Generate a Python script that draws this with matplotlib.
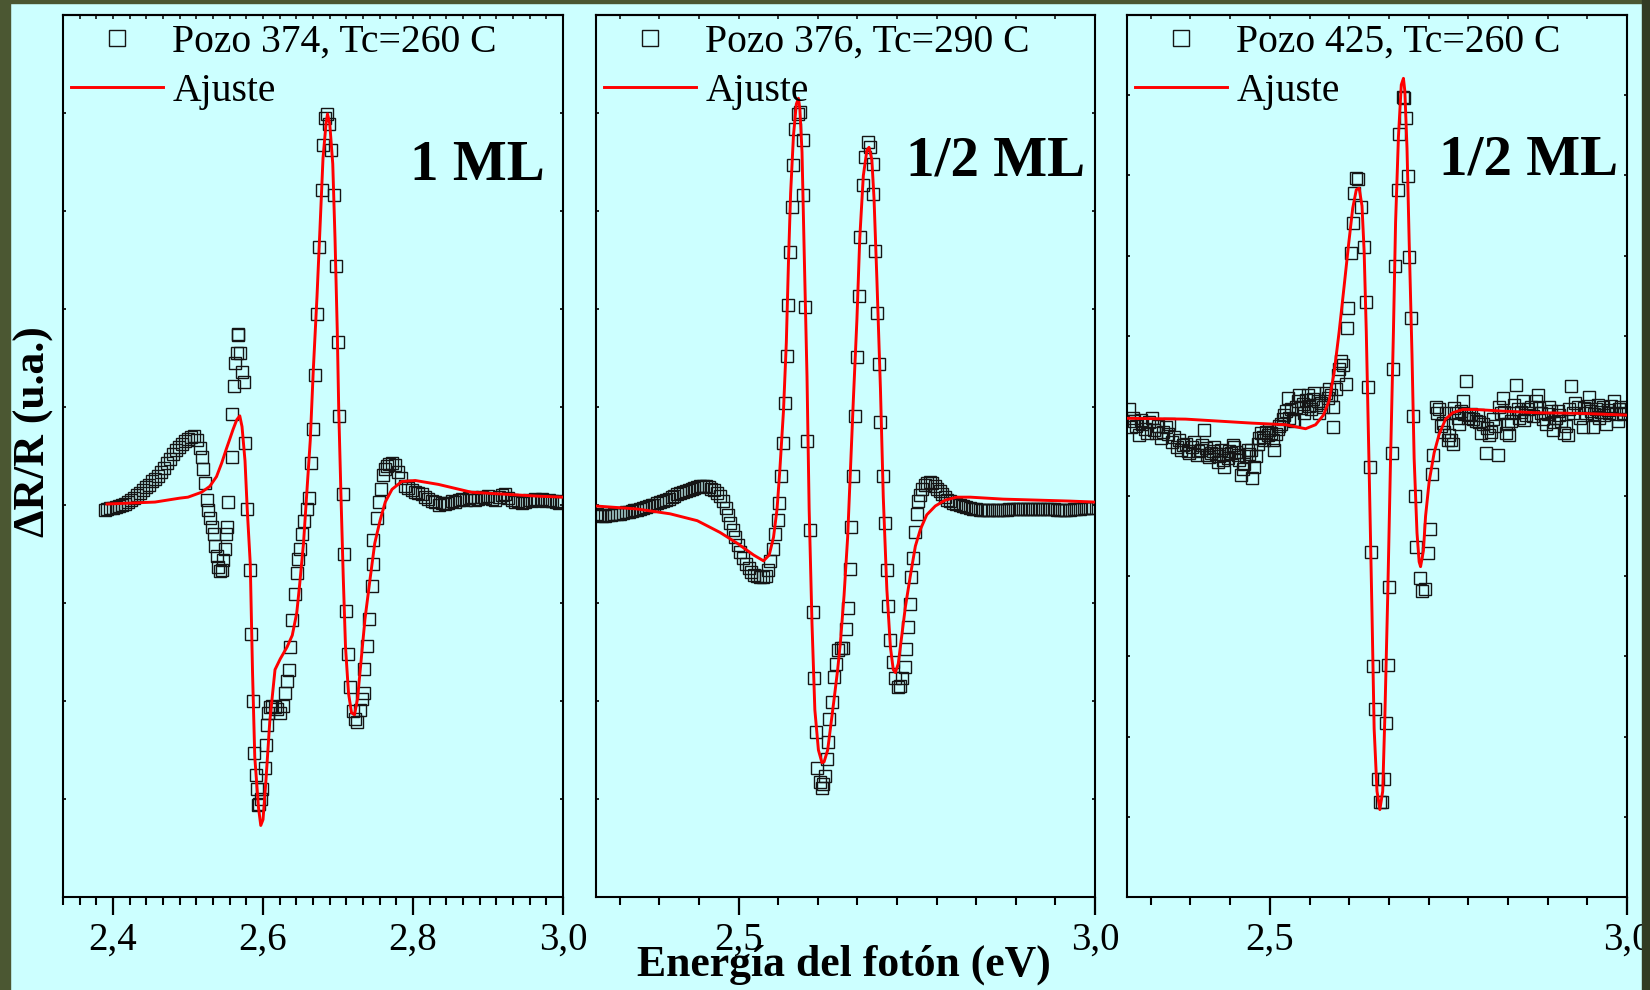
import matplotlib
matplotlib.use("Agg")
import matplotlib.pyplot as plt
from matplotlib.lines import Line2D
from matplotlib.patches import Rectangle
from matplotlib.ticker import MultipleLocator, AutoMinorLocator, NullFormatter, FuncFormatter

plt.rcParams['font.family'] = ['Liberation Serif', 'DejaVu Serif']

# ---------------- data ----------------
labels = ["Pozo 374, Tc=260 C", "Pozo 376, Tc=290 C", "Pozo 425, Tc=260 C"]
fit_label = "Ajuste"
ml_labels = ["1 ML", "1/2 ML", "1/2 ML"]
x_label = "Energía del fotón (eV)"
y_label = "ΔR/R (u.a.)"

# Panel 1 - Pozo 374 data
e1 = [2.389, 2.392, 2.396, 2.400, 2.404, 2.408, 2.412, 2.416, 2.420, 2.424, 2.428, 2.432, 2.436, 2.440,
      2.444, 2.448, 2.452, 2.456, 2.460, 2.464, 2.468, 2.472, 2.476, 2.480, 2.484, 2.488, 2.492, 2.496,
      2.500, 2.504, 2.508, 2.512, 2.516, 2.518, 2.520, 2.523, 2.525, 2.527, 2.529, 2.532, 2.534, 2.536,
      2.538, 2.540, 2.543, 2.545, 2.547, 2.549, 2.551, 2.552, 2.553, 2.558, 2.559, 2.561, 2.563, 2.565,
      2.566, 2.567, 2.569, 2.572, 2.574, 2.576, 2.579, 2.582, 2.584, 2.586, 2.588, 2.590, 2.592, 2.593,
      2.595, 2.597, 2.599, 2.602, 2.604, 2.605, 2.607, 2.609, 2.612, 2.616, 2.619, 2.623, 2.626, 2.629,
      2.632, 2.634, 2.636, 2.639, 2.642, 2.645, 2.647, 2.649, 2.652, 2.655, 2.658, 2.661, 2.664, 2.666,
      2.669, 2.672, 2.675, 2.678, 2.680, 2.683, 2.685, 2.688, 2.691, 2.694, 2.697, 2.700, 2.701, 2.706,
      2.708, 2.711, 2.713, 2.716, 2.720, 2.723, 2.725, 2.729, 2.732, 2.734, 2.735, 2.738, 2.741, 2.745,
      2.746, 2.747, 2.752, 2.755, 2.757, 2.760, 2.763, 2.765, 2.768, 2.772, 2.776, 2.780, 2.784, 2.789,
      2.793, 2.798, 2.802, 2.806, 2.812, 2.816, 2.820, 2.825, 2.829, 2.834, 2.838, 2.843, 2.847, 2.852,
      2.856, 2.861, 2.865, 2.870, 2.874, 2.878, 2.883, 2.887, 2.892, 2.896, 2.900, 2.905, 2.909, 2.914,
      2.918, 2.923, 2.927, 2.932, 2.936, 2.940, 2.945, 2.949, 2.954, 2.958, 2.963, 2.967, 2.972, 2.976,
      2.981, 2.985, 2.990, 2.994, 2.998]
r1 = [-0.05, -0.04, -0.03, -0.03, -0.02, -0.01, 0.00, 0.01, 0.03, 0.05, 0.07, 0.10, 0.12, 0.15,
      0.18, 0.20, 0.24, 0.27, 0.30, 0.34, 0.38, 0.43, 0.47, 0.52, 0.56, 0.59, 0.62, 0.65,
      0.67, 0.69, 0.70, 0.66, 0.58, 0.49, 0.37, 0.22, 0.05, -0.05, -0.13, -0.22, -0.30, -0.42,
      -0.52, -0.63, -0.67, -0.66, -0.56, -0.45, -0.30, -0.22, 0.03, 0.49, 0.93, 1.21, 1.45, 1.55,
      1.74, 1.73, 1.55, 1.36, 1.25, 0.63, -0.04, -0.66, -1.32, -2.00, -2.53, -2.75, -2.90, -3.06,
      -3.05, -3.00, -2.90, -2.68, -2.45, -2.24, -2.12, -2.06, -2.05, -2.06, -2.08, -2.12, -2.05, -1.92,
      -1.80, -1.68, -1.45, -1.17, -0.91, -0.69, -0.55, -0.45, -0.30, -0.16, -0.04, 0.07, 0.43, 0.78,
      1.33, 1.95, 2.63, 3.21, 3.67, 3.95, 3.99, 3.89, 3.62, 3.16, 2.44, 1.66, 0.91, 0.11,
      -0.50, -1.08, -1.52, -1.86, -2.10, -2.18, -2.21, -2.09, -1.98, -1.92, -1.67, -1.44, -1.16, -0.83,
      -0.60, -0.36, -0.13, 0.03, 0.16, 0.31, 0.37, 0.40, 0.42, 0.43, 0.41, 0.34, 0.28, 0.19,
      0.17, 0.15, 0.13, 0.12, 0.11, 0.08, 0.06, 0.04, 0.03, 0.00, 0.02, 0.01, 0.02, 0.04,
      0.03, 0.05, 0.06, 0.05, 0.07, 0.08, 0.05, 0.06, 0.08, 0.07, 0.09, 0.06, 0.05, 0.08,
      0.10, 0.11, 0.07, 0.05, 0.03, 0.04, 0.02, 0.03, 0.05, 0.04, 0.06, 0.05, 0.06, 0.04,
      0.05, 0.04, 0.03, 0.02, 0.04]
# Panel 1 fit
fe1 = [2.392, 2.456, 2.489, 2.500, 2.518, 2.529, 2.538, 2.545, 2.551, 2.556, 2.560, 2.565, 2.569, 2.572,
       2.576, 2.579, 2.583, 2.586, 2.589, 2.594, 2.597, 2.600, 2.604, 2.609, 2.616, 2.623, 2.632, 2.639,
       2.645, 2.649, 2.654, 2.658, 2.663, 2.667, 2.672, 2.676, 2.680, 2.684, 2.686, 2.689, 2.693, 2.696,
       2.699, 2.701, 2.704, 2.707, 2.710, 2.714, 2.718, 2.722, 2.726, 2.731, 2.736, 2.743, 2.749, 2.756,
       2.763, 2.772, 2.785, 2.803, 2.834, 2.878, 2.923, 2.967, 3.000]
fr1 = [0.01, 0.03, 0.07, 0.08, 0.13, 0.19, 0.29, 0.43, 0.57, 0.68, 0.77, 0.87, 0.91, 0.80,
       0.45, -0.05, -0.60, -1.70, -2.57, -3.09, -3.27, -3.21, -2.80, -2.21, -1.68, -1.57, -1.45, -1.33,
       -1.10, -0.80, -0.39, 0.08, 0.66, 1.37, 2.13, 2.83, 3.54, 3.89, 3.99, 3.89, 3.48, 2.72,
       1.78, 0.96, 0.08, -0.74, -1.45, -1.92, -2.12, -2.14, -1.98, -1.57, -1.16, -0.74, -0.39, -0.16,
       0.03, 0.16, 0.24, 0.25, 0.21, 0.13, 0.11, 0.09, 0.08]

# Panel 2 - Pozo 376 data
e2 = [2.301, 2.305, 2.309, 2.313, 2.317, 2.321, 2.325, 2.329, 2.334, 2.338, 2.342, 2.346, 2.350, 2.354,
      2.358, 2.362, 2.366, 2.370, 2.374, 2.378, 2.382, 2.386, 2.390, 2.394, 2.398, 2.402, 2.406, 2.410,
      2.414, 2.418, 2.422, 2.426, 2.430, 2.434, 2.438, 2.442, 2.446, 2.450, 2.454, 2.458, 2.462, 2.466,
      2.470, 2.474, 2.478, 2.482, 2.485, 2.488, 2.492, 2.495, 2.499, 2.502, 2.506, 2.510, 2.514, 2.518,
      2.522, 2.526, 2.530, 2.534, 2.538, 2.541, 2.544, 2.548, 2.551, 2.555, 2.557, 2.560, 2.562, 2.565,
      2.568, 2.570, 2.572, 2.575, 2.576, 2.579, 2.583, 2.586, 2.590, 2.591, 2.593, 2.596, 2.600, 2.604,
      2.606, 2.609, 2.610, 2.614, 2.617, 2.619, 2.621, 2.624, 2.626, 2.627, 2.631, 2.634, 2.637, 2.640,
      2.643, 2.646, 2.651, 2.653, 2.656, 2.658, 2.660, 2.663, 2.666, 2.669, 2.670, 2.674, 2.678, 2.681,
      2.685, 2.688, 2.689, 2.691, 2.694, 2.697, 2.699, 2.702, 2.705, 2.708, 2.710, 2.713, 2.716, 2.720,
      2.723, 2.726, 2.729, 2.734, 2.735, 2.737, 2.740, 2.742, 2.744, 2.748, 2.750, 2.752, 2.755, 2.757,
      2.761, 2.764, 2.768, 2.771, 2.775, 2.778, 2.782, 2.785, 2.789, 2.792, 2.796, 2.801, 2.805, 2.810,
      2.815, 2.819, 2.824, 2.829, 2.833, 2.838, 2.843, 2.848, 2.852, 2.857, 2.862, 2.866, 2.871, 2.876,
      2.880, 2.885, 2.890, 2.895, 2.899, 2.904, 2.909, 2.913, 2.918, 2.923, 2.927, 2.932, 2.937, 2.942,
      2.946, 2.951, 2.956, 2.960, 2.965, 2.970, 2.974, 2.979, 2.984, 2.988, 2.993, 2.997]
r2 = [-0.09, -0.10, -0.11, -0.11, -0.10, -0.10, -0.09, -0.09, -0.09, -0.08, -0.07, -0.07, -0.06, -0.05,
      -0.05, -0.04, -0.03, -0.02, -0.01, 0.00, 0.00, 0.02, 0.03, 0.04, 0.05, 0.06, 0.08, 0.09,
      0.11, 0.12, 0.13, 0.14, 0.15, 0.16, 0.17, 0.18, 0.19, 0.19, 0.19, 0.18, 0.16, 0.15,
      0.12, 0.09, 0.04, -0.03, -0.10, -0.18, -0.26, -0.33, -0.41, -0.48, -0.54, -0.60, -0.64, -0.68,
      -0.71, -0.72, -0.73, -0.73, -0.72, -0.66, -0.57, -0.45, -0.30, -0.15, 0.02, 0.30, 0.63, 1.04,
      1.52, 2.04, 2.58, 3.04, 3.47, 3.84, 3.99, 4.01, 3.72, 3.16, 2.02, 0.65, -0.25, -1.09,
      -1.77, -2.32, -2.68, -2.83, -2.89, -2.85, -2.77, -2.59, -2.42, -2.18, -2.01, -1.76, -1.62, -1.48,
      -1.46, -1.46, -1.27, -1.05, -0.65, -0.22, 0.30, 0.91, 1.51, 2.13, 2.73, 3.27, 3.55, 3.70,
      3.65, 3.48, 3.17, 2.59, 1.96, 1.44, 0.85, 0.30, -0.18, -0.66, -1.03, -1.38, -1.60, -1.77,
      -1.86, -1.85, -1.77, -1.65, -1.47, -1.24, -1.01, -0.73, -0.54, -0.28, -0.09, 0.04, 0.10, 0.16,
      0.20, 0.22, 0.23, 0.22, 0.19, 0.16, 0.14, 0.11, 0.08, 0.05, 0.04, 0.02, 0.01, 0.00,
      -0.01, -0.02, -0.03, -0.04, -0.04, -0.05, -0.05, -0.05, -0.05, -0.05, -0.05, -0.05, -0.05, -0.05,
      -0.04, -0.04, -0.04, -0.04, -0.04, -0.04, -0.04, -0.04, -0.04, -0.04, -0.04, -0.04, -0.04, -0.04,
      -0.05, -0.05, -0.05, -0.05, -0.05, -0.04, -0.04, -0.04, -0.03, -0.03, -0.03, -0.03]
# Panel 2 fit
fe2 = [2.299, 2.357, 2.404, 2.442, 2.474, 2.498, 2.521, 2.535, 2.543, 2.549, 2.554, 2.558, 2.563, 2.567,
       2.570, 2.573, 2.577, 2.581, 2.584, 2.586, 2.589, 2.592, 2.596, 2.599, 2.603, 2.607, 2.612, 2.617,
       2.620, 2.625, 2.629, 2.634, 2.639, 2.643, 2.648, 2.653, 2.657, 2.661, 2.666, 2.670, 2.675, 2.680,
       2.683, 2.687, 2.690, 2.694, 2.699, 2.703, 2.708, 2.713, 2.717, 2.720, 2.724, 2.729, 2.734, 2.741,
       2.748, 2.755, 2.764, 2.776, 2.790, 2.806, 2.825, 2.871, 2.918, 2.965, 3.000]
fr2 = [-0.01, -0.04, -0.09, -0.16, -0.28, -0.39, -0.51, -0.57, -0.51, -0.33, -0.04, 0.37, 0.96, 1.66,
       2.48, 3.18, 3.77, 4.09, 4.15, 4.04, 3.60, 2.60, 1.31, -0.04, -1.21, -2.09, -2.50, -2.63,
       -2.62, -2.50, -2.27, -1.98, -1.68, -1.39, -0.92, -0.33, 0.37, 1.07, 1.89, 2.72, 3.36, 3.62,
       3.65, 3.52, 3.13, 2.31, 1.19, 0.08, -0.86, -1.45, -1.68, -1.71, -1.62, -1.33, -1.04, -0.72,
       -0.42, -0.25, -0.10, -0.01, 0.05, 0.08, 0.08, 0.06, 0.05, 0.04, 0.03]

# Panel 3 - Pozo 425 data
e3 = [2.303, 2.305, 2.308, 2.310, 2.313, 2.317, 2.319, 2.321, 2.325, 2.328, 2.331, 2.335, 2.338, 2.340,
      2.343, 2.347, 2.350, 2.354, 2.357, 2.359, 2.363, 2.366, 2.370, 2.373, 2.375, 2.378, 2.382, 2.385,
      2.387, 2.391, 2.394, 2.398, 2.400, 2.403, 2.405, 2.408, 2.410, 2.412, 2.415, 2.417, 2.420, 2.422,
      2.425, 2.427, 2.429, 2.431, 2.434, 2.436, 2.438, 2.441, 2.443, 2.445, 2.448, 2.450, 2.453, 2.455,
      2.457, 2.459, 2.462, 2.464, 2.467, 2.469, 2.471, 2.473, 2.475, 2.478, 2.480, 2.483, 2.485, 2.487,
      2.490, 2.492, 2.494, 2.497, 2.499, 2.501, 2.504, 2.506, 2.509, 2.511, 2.513, 2.515, 2.518, 2.520,
      2.523, 2.525, 2.527, 2.529, 2.532, 2.534, 2.536, 2.539, 2.541, 2.544, 2.546, 2.548, 2.551, 2.553,
      2.555, 2.557, 2.560, 2.562, 2.565, 2.567, 2.569, 2.572, 2.575, 2.578, 2.581, 2.583, 2.586, 2.588,
      2.589, 2.592, 2.595, 2.597, 2.599, 2.603, 2.606, 2.608, 2.610, 2.613, 2.616, 2.618, 2.621, 2.623,
      2.627, 2.632, 2.634, 2.638, 2.640, 2.642, 2.645, 2.647, 2.651, 2.654, 2.657, 2.660, 2.662, 2.665,
      2.667, 2.671, 2.673, 2.675, 2.679, 2.681, 2.686, 2.688, 2.690, 2.693, 2.695, 2.698, 2.701, 2.703,
      2.705, 2.710, 2.713, 2.717, 2.722, 2.724, 2.727, 2.729, 2.732, 2.734, 2.737, 2.739, 2.742, 2.744,
      2.746, 2.749, 2.751, 2.754, 2.756, 2.758, 2.760, 2.763, 2.765, 2.768, 2.770, 2.772, 2.774, 2.777,
      2.779, 2.782, 2.784, 2.788, 2.791, 2.793, 2.795, 2.798, 2.802, 2.804, 2.807, 2.810, 2.812, 2.815,
      2.819, 2.821, 2.823, 2.826, 2.828, 2.830, 2.833, 2.835, 2.838, 2.840, 2.842, 2.844, 2.847, 2.849,
      2.852, 2.854, 2.856, 2.858, 2.862, 2.865, 2.868, 2.872, 2.875, 2.877, 2.879, 2.883, 2.886, 2.889,
      2.891, 2.894, 2.896, 2.898, 2.900, 2.903, 2.905, 2.908, 2.912, 2.915, 2.917, 2.919, 2.921, 2.924,
      2.927, 2.931, 2.934, 2.938, 2.940, 2.942, 2.945, 2.947, 2.950, 2.952, 2.954, 2.956, 2.959, 2.961,
      2.964, 2.966, 2.968, 2.970, 2.973, 2.975, 2.978, 2.982, 2.984, 2.987, 2.989, 2.991, 2.994, 2.996,
      2.999]
r3 = [0.08, -0.14, -0.02, -0.06, -0.12, -0.24, -0.05, -0.10, -0.16, -0.21, -0.08, -0.03, -0.18, -0.21,
      -0.12, -0.28, -0.20, -0.14, -0.22, -0.10, -0.32, -0.26, -0.39, -0.30, -0.42, -0.36, -0.35, -0.44,
      -0.46, -0.39, -0.33, -0.49, -0.44, -0.42, -0.36, -0.17, -0.40, -0.49, -0.51, -0.46, -0.44, -0.39,
      -0.48, -0.57, -0.50, -0.42, -0.55, -0.64, -0.47, -0.53, -0.44, -0.46, -0.36, -0.39, -0.45, -0.49,
      -0.55, -0.74, -0.66, -0.60, -0.50, -0.42, -0.48, -0.42, -0.78, -0.64, -0.50, -0.35, -0.28, -0.21,
      -0.26, -0.30, -0.20, -0.24, -0.18, -0.21, -0.30, -0.42, -0.22, -0.16, -0.12, -0.10, -0.04, 0.01,
      0.06, 0.22, -0.03, 0.08, -0.05, -0.06, 0.11, 0.18, 0.26, 0.10, 0.15, 0.04, 0.20, 0.26,
      0.12, 0.08, 0.21, 0.29, 0.14, 0.19, 0.04, 0.16, 0.11, 0.29, 0.22, 0.34, 0.26, 0.11,
      -0.14, 0.33, 0.51, 0.58, 0.69, 0.63, 0.40, 1.10, 1.35, 2.03, 2.41, 2.78, 2.97, 2.96,
      2.61, 2.11, 1.42, 0.36, -0.64, -1.70, -3.12, -3.65, -4.53, -4.81, -4.81, -4.53, -3.83, -3.11,
      -2.14, -0.46, 0.58, 1.87, 2.82, 3.52, 3.98, 3.97, 3.71, 2.99, 1.98, 1.22, 0.00, -1.00,
      -1.64, -2.02, -2.18, -2.16, -1.71, -1.41, -0.73, -0.49, 0.11, 0.04, 0.08, -0.12, -0.09, -0.20,
      0.04, -0.30, -0.24, -0.30, -0.35, 0.10, 0.04, -0.02, -0.10, 0.06, 0.19, 0.02, 0.44, -0.02,
      0.01, 0.03, -0.04, -0.06, 0.01, -0.08, -0.21, -0.10, -0.46, -0.15, -0.24, -0.20, -0.04, -0.12,
      -0.49, 0.11, 0.04, 0.22, 0.05, -0.21, -0.10, -0.24, -0.06, 0.04, 0.14, 0.39, 0.08, -0.03,
      0.05, 0.19, -0.05, 0.01, 0.08, 0.11, 0.00, 0.18, 0.26, 0.10, 0.04, -0.04, -0.10, 0.02,
      0.11, 0.06, -0.17, -0.08, -0.03, 0.06, 0.01, -0.06, -0.21, -0.12, -0.24, 0.08, 0.37, 0.04,
      0.16, 0.11, -0.02, -0.14, 0.10, 0.04, 0.12, 0.24, 0.06, -0.14, 0.02, 0.08, 0.14, -0.03,
      0.05, 0.11, 0.01, -0.10, 0.07, 0.04, 0.12, 0.19, 0.03, -0.06, 0.08, 0.11, 0.02, 0.04,
      0.09]
# Panel 3 fit
fe3 = [2.300, 2.382, 2.475, 2.522, 2.550, 2.564, 2.575, 2.583, 2.590, 2.597, 2.604, 2.610, 2.616, 2.621,
       2.625, 2.629, 2.632, 2.635, 2.639, 2.643, 2.646, 2.650, 2.654, 2.658, 2.661, 2.665, 2.669, 2.673,
       2.676, 2.680, 2.684, 2.687, 2.689, 2.692, 2.695, 2.699, 2.702, 2.706, 2.709, 2.711, 2.715, 2.718,
       2.723, 2.730, 2.737, 2.746, 2.756, 2.770, 2.788, 2.826, 2.872, 2.942, 3.000]
fr3 = [-0.03, -0.04, -0.09, -0.11, -0.16, -0.11, 0.01, 0.19, 0.54, 1.05, 1.62, 2.12, 2.59, 2.82,
       2.84, 2.62, 2.05, 1.05, -0.67, -2.46, -3.90, -4.68, -4.91, -4.68, -3.75, -2.25, -0.53, 1.05,
       2.41, 3.48, 4.13, 4.21, 4.05, 3.34, 2.19, 0.76, -0.53, -1.46, -1.82, -1.88, -1.68, -1.25,
       -0.82, -0.46, -0.23, -0.04, 0.04, 0.08, 0.08, 0.06, 0.04, 0.03, 0.01]

data_e = [e1, e2, e3]
data_r = [r1, r2, r3]
fit_e = [fe1, fe2, fe3]
fit_r = [fr1, fr2, fr3]
xlims = [(2.3333, 3.0), (2.3, 3.0), (2.3, 3.0)]
ylims = [(-4, 5), (-4, 5), (-6, 5)]
xmajor = [0.2, 0.5, 0.5]

# ---------------- styling / layout ----------------
W, H = 1650, 990
bg = '#CCFFFF'
fig = plt.figure(figsize=(W / 100, H / 100), dpi=100, facecolor=bg)

lefts = [63, 596, 1127]
widths = [500, 499, 500]
top_px, bot_px = 15, 897
ml_pos = [(0.964, 0.813), (0.980, 0.818), (0.983, 0.819)]

comma = FuncFormatter(lambda v, p: ("%.1f" % v).replace('.', ','))

for i in range(3):
    ax = fig.add_axes([lefts[i] / W, 1 - bot_px / H, widths[i] / W, (bot_px - top_px) / H])
    ax.set_facecolor(bg)
    ax.plot(data_e[i], data_r[i], ls='none', marker='s', ms=8.5, mfc='none', mec='#151515', mew=1.0,
            zorder=2)
    ax.plot(fit_e[i], fit_r[i], color='#FF0000', lw=2.1, zorder=3, solid_joinstyle='round')
    ax.set_xlim(*xlims[i])
    ax.set_ylim(*ylims[i])
    for s in ax.spines.values():
        s.set_linewidth(1.5)
        s.set_color('black')
    ax.xaxis.set_major_locator(MultipleLocator(xmajor[i]))
    ax.xaxis.set_minor_locator(AutoMinorLocator(9))
    ax.xaxis.set_major_formatter(comma)
    ax.tick_params(axis='x', which='major', direction='out', length=13, width=1.6, pad=4.5,
                   labelsize=28, top=False, bottom=True)
    ax.tick_params(axis='x', which='minor', direction='out', length=6, width=1.5, top=False)
    ax.yaxis.set_major_locator(MultipleLocator(1))
    ax.tick_params(axis='y', which='major', direction='in', length=2.5, width=1.2,
                   left=True, right=True, labelleft=False)
    sec = ax.secondary_xaxis('top')
    sec.xaxis.set_major_locator(MultipleLocator(xmajor[i]))
    sec.xaxis.set_minor_locator(AutoMinorLocator(9))
    sec.xaxis.set_major_formatter(NullFormatter())
    sec.tick_params(axis='x', which='both', direction='in', length=2.8, width=1.1)
    sec.spines['top'].set_linewidth(1.5)

    handles = [Line2D([], [], ls='none', marker='s', ms=8.5, mfc='none', mec='#151515', mew=1.0),
               Line2D([], [], color='#FF0000', lw=2.1)]
    ax.legend(handles, [labels[i], fit_label], loc='upper left', bbox_to_anchor=(0.016, 0.99),
              frameon=False, fontsize=28.5, borderpad=0, borderaxespad=0, handlelength=2.33,
              handletextpad=0.23, labelspacing=0.3, markerscale=1.3, numpoints=1)
    ax.text(ml_pos[i][0], ml_pos[i][1], ml_labels[i], transform=ax.transAxes, ha='right',
            va='baseline', fontsize=41, fontweight='bold')

fig.text(844 / W, 1 - 976 / H, x_label, ha='center', va='baseline', fontsize=31.5, fontweight='bold')
fig.text(34 / W, 1 - 432 / H, y_label, ha='center', va='center', rotation=90, fontsize=31.5,
         fontweight='bold')

# dark frame of the slide
fig.add_artist(Rectangle((0, 0), 9.5 / W, 1, transform=fig.transFigure, color='#4B5732', zorder=20))
fig.add_artist(Rectangle((0, 1 - 3.3 / H), 1, 3.3 / H, transform=fig.transFigure, color='#4B5732',
                         zorder=20))
fig.add_artist(Rectangle((1642 / W, 0), 8 / W, 1, transform=fig.transFigure, color='#323B24',
                         zorder=20))

fig.savefig('out.png', dpi=100, facecolor=bg)
